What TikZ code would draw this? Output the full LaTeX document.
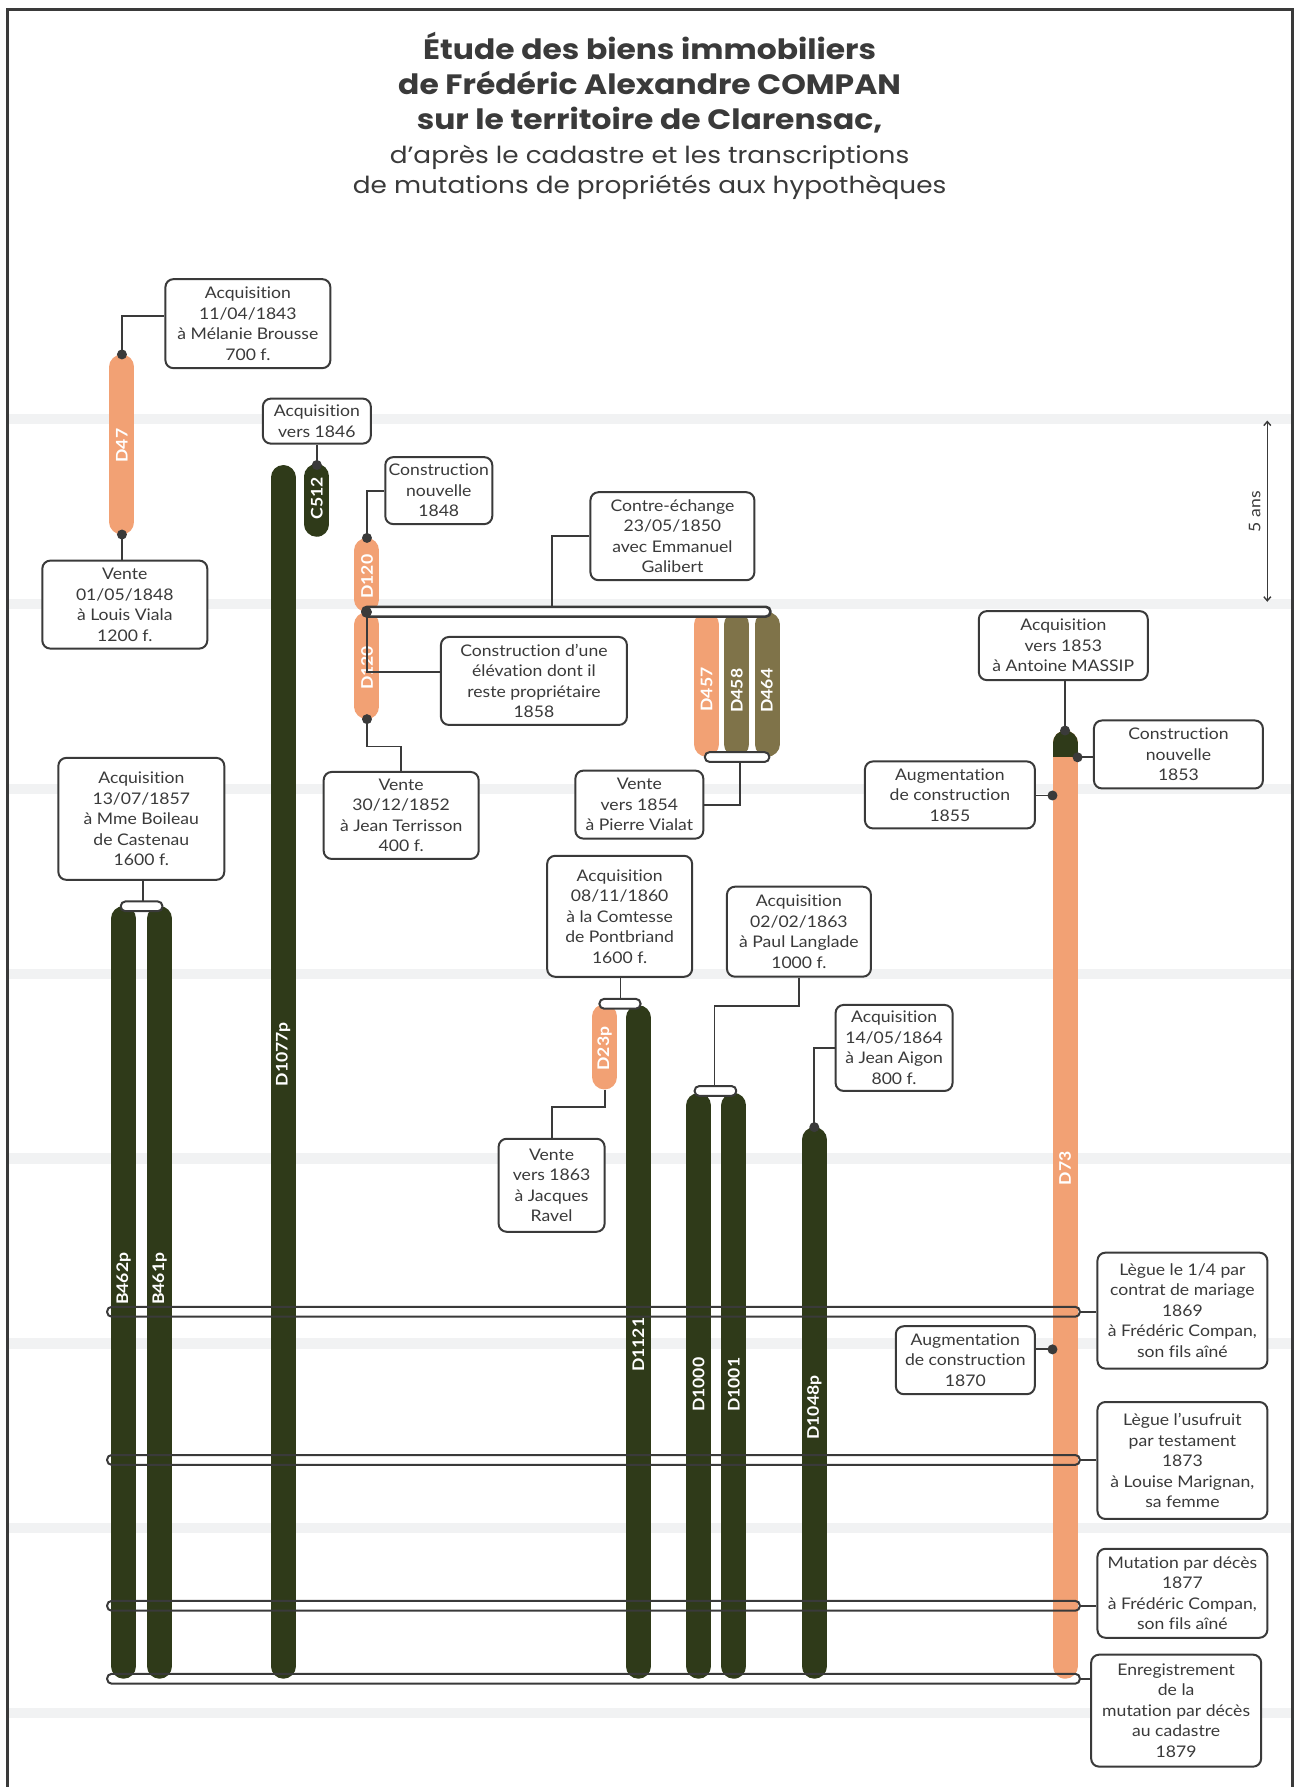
\documentclass[tikz,border=0pt]{standalone}
\usepackage{fontspec}
\setmainfont{Lato}[FakeStretch=1.1, Ligatures=NoCommon]
\newfontfamily\titlefont{Poppins}[FakeStretch=1.12]
\usetikzlibrary{arrows.meta,calc}
\definecolor{salmon}{HTML}{F2A174}
\definecolor{darkbar}{HTML}{2F3A19}
\definecolor{olivebar}{HTML}{7F7349}
\definecolor{band}{HTML}{F1F2F3}
\definecolor{ink}{HTML}{3A3A3A}
\begin{document}
\begin{tikzpicture}[x=1.14pt,y=-1.14pt,
  evbox/.style={draw=ink, line width=2pt, rounded corners=8pt, fill=white, align=center,
    inner sep=0pt, text=ink, font=\fontsize{16}{20.5}\selectfont},
  sz/.style 2 args={minimum width=#1pt, minimum height=#2pt},
  bar/.style={line width=25pt, line cap=round},
  barlabel/.style={rotate=90, text=white, inner sep=0pt, font=\bfseries\fontsize{16}{16}\selectfont},
  conn/.style={draw=ink, line width=1.8pt},
  capsule/.style={draw=ink, line width=2pt, rounded corners=4.5pt},
  dotc/.style={fill=ink}]
\useasboundingbox (0,0) rectangle (1136,1568);
\fill[white] (0,0) rectangle (1136,1568);
% horizontal bands (every 5 years)
\foreach \k in {0,...,7}{
  \fill[band] (8,{367.8+162.2*\k-4.5}) rectangle (1133,{367.8+162.2*\k+4.5});
}
% frame
\draw[ink, line width=3pt] (6.5,1650) -- (6.5,8) -- (1134,8) -- (1134,1650);
% title
\node[align=center, text=ink, anchor=north, inner sep=0pt,
      font=\titlefont\fontsize{28}{35}\selectfont] (title) at (570,28)
 {{\bfseries Étude des biens immobiliers}\\
  {\bfseries de Frédéric Alexandre COMPAN}\\
  {\bfseries sur le territoire de Clarensac,}\\[-1pt]
  {\fontsize{23.5}{35}\selectfont d’après le cadastre et les transcriptions}\\[-5pt]
  {\fontsize{23.5}{35}\selectfont de mutations de propriétés aux hypothèques}};

% ---------- bars ----------
\draw[bar, salmon]  (107,322) -- (107,458);          % D47
\draw[bar, darkbar] (248.5,419) -- (248.5,1462);     % D1077p
\draw[bar, darkbar] (278,418) -- (278,460);          % C512
\draw[bar, salmon]  (322,483) -- (322,526);          % D120 a
\draw[bar, salmon]  (322,548) -- (322,620);          % D120 b
\draw[bar, salmon]  (620,548) -- (620,653);          % D457
\draw[bar, olivebar] (646.5,548) -- (646.5,653);     % D458
\draw[bar, olivebar] (673,548) -- (673,653);         % D464
\draw[bar, salmon]  (934.5,652) -- (934.5,1462);     % D73
\begin{scope}
  \clip (915,620) rectangle (955,664);
  \draw[bar, darkbar] (934.5,652) -- (934.5,1462);
\end{scope}
\draw[bar, darkbar] (108.5,806) -- (108.5,1462);     % B462p
\draw[bar, darkbar] (140,806) -- (140,1462);         % B461p
\draw[bar, salmon]  (530.5,892) -- (530.5,945);      % D23p
\draw[bar, darkbar] (560,893) -- (560,1462);         % D1121
\draw[bar, darkbar] (613,970) -- (613,1462);         % D1000
\draw[bar, darkbar] (644,970) -- (644,1462);         % D1001
\draw[bar, darkbar] (714.5,1000) -- (714.5,1462);    % D1048p

% bar labels
\node[barlabel] (lD47) at (107,391) {D47};
\node[barlabel] (lD1077p) at (248.5,925) {D1077p};
\node[barlabel] (lC512) at (278,437) {C512};
\node[barlabel] (lD120a) at (322,506) {D120};
\node[barlabel] (lD120b) at (322,586) {D120};
\node[barlabel] (lD457) at (620,605) {D457};
\node[barlabel] (lD458) at (646.5,606) {D458};
\node[barlabel] (lD464) at (673,606) {D464};
\node[barlabel] (lD73) at (934.5,1025) {D73};
\node[barlabel] (lB462p) at (108.5,1122) {B462p};
\node[barlabel] (lB461p) at (140,1122) {B461p};
\node[barlabel] (lD23p) at (530.5,920) {D23p};
\node[barlabel] (lD1121) at (560,1180) {D1121};
\node[barlabel] (lD1000) at (613,1215) {D1000};
\node[barlabel] (lD1001) at (644,1215) {D1001};
\node[barlabel] (lD1048p) at (714.5,1235) {D1048p};

% ---------- capsules ----------
\draw[capsule, fill=white, line width=2.6pt] (318,532.5) rectangle (676,541);
\draw[capsule, fill=white] (618.5,660) rectangle (675,668.5);
\draw[capsule, fill=white] (106,791) rectangle (142.5,799.5);
\draw[capsule, fill=white] (526,876.5) rectangle (562,885);
\draw[capsule, fill=white] (609.5,953) rectangle (646,961.5);
\foreach \yy in {1151,1281,1409,1473}{
  \draw[capsule] (94,{\yy-4.3}) rectangle (947.5,{\yy+4.3});
}

% ---------- coordinates ----------
\coordinate (d47t) at (107,311);
\coordinate (d47b) at (107,469);
\coordinate (c512t) at (278,408);
\coordinate (d120t) at (322,472);
\coordinate (junc) at (322,537);
\coordinate (d120b) at (322,631);
\coordinate (exA) at (484,532.5);
\coordinate (vc) at (649,668.5);
\coordinate (d73t) at (934.5,641);
\coordinate (d73r) at (945.5,664.5);
\coordinate (d73l) at (923.5,698);
\coordinate (d73l2) at (923.5,1184);
\coordinate (bcap) at (125.5,791);
\coordinate (ccap) at (544.5,876.5);
\coordinate (dcap) at (627,953);
\coordinate (d1048t) at (714.5,989);
\coordinate (d23b) at (530.5,956);
\coordinate (c1869) at (947.5,1151);
\coordinate (c1873) at (947.5,1281);
\coordinate (c1877) at (947.5,1409);
\coordinate (c1879) at (947.5,1473);
\coordinate (arT) at (1112,369);
\coordinate (arB) at (1112,528);

% ---------- boxes ----------
\node[evbox, sz={165}{89}] (A1) at (217.5,284) {Acquisition\\11/04/1843\\à Mélanie Brousse\\700 f.};
\node[evbox, sz={108}{45}] (A2) at (278,369.5) {Acquisition\\vers 1846};
\node[evbox, sz={107}{67}] (A3) at (385,430.5) {Construction\\nouvelle\\1848};
\node[evbox, sz={165}{88}] (A4) at (109.5,530.5) {Vente\\01/05/1848\\à Louis Viala\\1200 f.};
\node[evbox, sz={164}{88}] (A5) at (590,470.5) {Contre-échange\\23/05/1850\\avec Emmanuel\\Galibert};
\node[evbox, sz={186}{88}] (A6) at (468.5,597.5) {Construction d’une\\élévation dont il\\reste propriétaire\\1858};
\node[evbox, sz={169}{69}] (A7) at (933,566.5) {Acquisition\\vers 1853\\à Antoine MASSIP};
\node[evbox, sz={169}{68}] (A8) at (1034,662) {Construction\\nouvelle\\1853};
\node[evbox, sz={170}{67}] (A9) at (833.5,697.5) {Augmentation\\de construction\\1855};
\node[evbox, sz={155}{87}] (A10) at (352,715.5) {Vente\\30/12/1852\\à Jean Terrisson\\400 f.};
\node[evbox, sz={128}{68}] (A11) at (561,706) {Vente\\vers 1854\\à Pierre Vialat};
\node[evbox, sz={166}{122}] (A12) at (124,718.5) {Acquisition\\13/07/1857\\à Mme Boileau\\de Castenau\\1600 f.};
\node[evbox, sz={145}{121}] (A13) at (543.7,804) {Acquisition\\08/11/1860\\à la Comtesse\\de Pontbriand\\1600 f.};
\node[evbox, sz={144}{90}] (A14) at (701,817.5) {Acquisition\\02/02/1863\\à Paul Langlade\\1000 f.};
\node[evbox, sz={117}{86}] (A15) at (784.5,919.5) {Acquisition\\14/05/1864\\à Jean Aigon\\800 f.};
\node[evbox, sz={106}{93}] (A16) at (484,1040) {Vente\\vers 1863\\à Jacques\\Ravel};
\node[evbox, sz={170}{116}] (A17) at (1037.5,1150) {Lègue le 1/4 par\\contrat de mariage\\1869\\à Frédéric Compan,\\son fils aîné};
\node[evbox, sz={139}{68}] (A18) at (847,1193.5) {Augmentation\\de construction\\1870};
\node[evbox, sz={170}{117}] (A19) at (1037.5,1281.5) {Lègue l’usufruit\\par testament\\1873\\à Louise Marignan,\\sa femme};
\node[evbox, sz={170}{89}] (A20) at (1037.5,1398) {Mutation par décès\\1877\\à Frédéric Compan,\\son fils aîné};
\node[evbox, sz={170}{112}] (A21) at (1032,1501) {Enregistrement\\de la\\mutation par décès\\au cadastre\\1879};

% ---------- connectors ----------
\draw[conn] (d47t) |- ([yshift=8pt]A1.west);
\draw[conn] (d47b) -- (d47b |- A4.north);
\draw[conn] (c512t) -- (c512t |- A2.south);
\draw[conn] (d120t) |- (A3.west);
\draw[conn] (A5.west) -| (exA);
\draw[conn] (junc) |- ([yshift=9pt]A6.west);
\draw[conn] (d120b) -- ++(0,24) -| (A10.north);
\draw[conn] (vc) |- (A11.east);
\draw[conn] (d73t |- A7.south) -- (d73t);
\draw[conn] (d73r) -- (d73r -| A8.west);
\draw[conn] (d73l) -- (d73l -| A9.east);
\draw[conn] (d73l2) -- (d73l2 -| A18.east);
\draw[conn] (bcap |- A12.south) -- (bcap);
\draw[conn] (ccap |- A13.south) -- (ccap);
\draw[conn] (A14.south) -- ++(0,25) -| (dcap);
\draw[conn] (A15.west) -| (d1048t);
\draw[conn] (d23b) -- ++(0,15) -| (A16.north);
\draw[conn] (c1869) -- (c1869 -| A17.west);
\draw[conn] (c1873) -- (c1873 -| A19.west);
\draw[conn] (c1877) -- (c1877 -| A20.west);
\draw[conn] (c1879) -- (c1879 -| A21.west);

% dots
\foreach \c in {d47t,d47b,c512t,d120t,junc,d120b,d73t,d73r,d73l,d73l2,d1048t}{
  \fill[dotc] (\c) circle (5pt);
}

% 5 ans
\draw[ink, line width=1.4pt, {Straight Barb[length=4pt,width=7pt]}-{Straight Barb[length=4pt,width=7pt]}] (arT) -- (arB);
\node[rotate=90, text=ink, inner sep=0pt, font=\fontsize{16}{16}\selectfont] (ans) at (1101,449) {5 ans};
\end{tikzpicture}
\end{document}
